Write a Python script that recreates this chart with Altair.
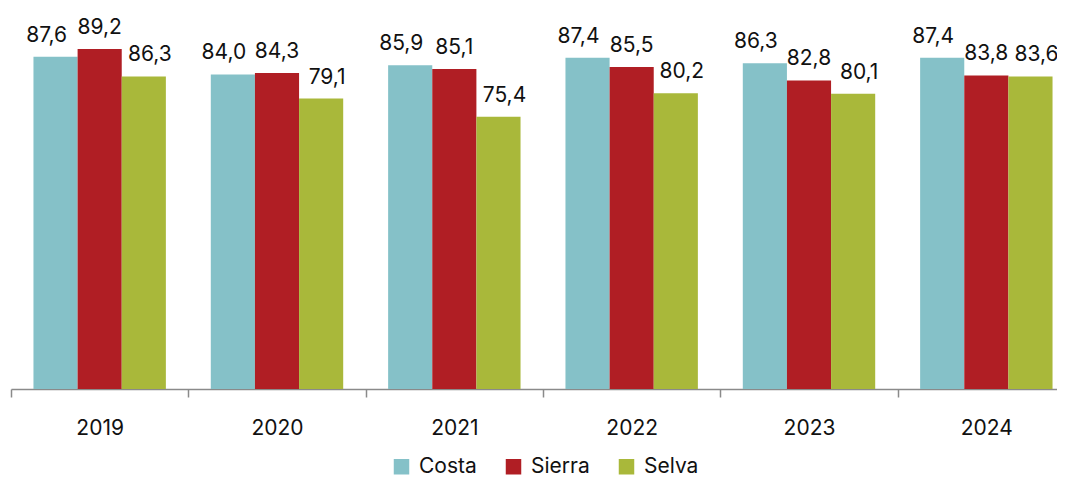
import altair as alt
import pandas as pd

years = ["2019", "2020", "2021", "2022", "2023", "2024"]
series = ["Costa", "Sierra", "Selva"]
colors = ["#85C1C8", "#B01E24", "#A9B83A"]

# values printed in the data labels
label_costa = [87.6, 84.0, 85.9, 87.4, 86.3, 87.4]
label_sierra = [89.2, 84.3, 85.1, 85.5, 82.8, 83.8]
label_selva = [86.3, 79.1, 75.4, 80.2, 80.1, 83.6]

# bar heights as drawn in the reference (2019 Selva bar is drawn lower than its label)
bar_costa = [87.6, 84.0, 85.9, 87.4, 86.3, 87.4]
bar_sierra = [89.2, 84.3, 85.1, 85.5, 82.8, 83.8]
bar_selva = [83.6, 79.1, 75.4, 80.2, 80.1, 83.6]

rows = []
for name, bars, labels in [("Costa", bar_costa, label_costa),
                           ("Sierra", bar_sierra, label_sierra),
                           ("Selva", bar_selva, label_selva)]:
    for y, b, l in zip(years, bars, labels):
        rows.append({"year": y, "serie": name, "valor": b,
                     "etiqueta": f"{l:.1f}".replace(".", ",")})
df = pd.DataFrame(rows)

FONT = "Inter"
FS = 21

x_enc = alt.X("year:N", sort=years, title=None,
              scale=alt.Scale(paddingInner=0, paddingOuter=0),
              axis=alt.Axis(labelAngle=0, tickBand="extent", domainColor="#8a8a8a",
                            tickColor="#8a8a8a", domainWidth=1.5, tickWidth=1.5,
                            tickSize=8, labelPadding=37, labelBaseline="alphabetic",
                            labelFont=FONT, labelFontSize=FS, labelColor="#111111",
                            grid=False))
xoff = alt.XOffset("serie:N", sort=series,
                   scale=alt.Scale(domain=series, paddingOuter=0.509, paddingInner=0))
y_scale = alt.Scale(domain=[20, 90], zero=False, nice=False)

bars = alt.Chart(df).mark_bar().encode(
    x=x_enc,
    xOffset=xoff,
    y=alt.Y("valor:Q", scale=y_scale, axis=None),
    y2=alt.datum(20),
    color=alt.Color("serie:N", sort=series,
                    scale=alt.Scale(domain=series, range=colors),
                    legend=alt.Legend(title=None, orient="none", direction="horizontal",
                                      legendX=380, legendY=411, symbolType="square",
                                      symbolSize=240, symbolStrokeWidth=0,
                                      labelFont=FONT, labelFontSize=FS, labelColor="#111111",
                                      labelOffset=7, columnPadding=26, padding=0)),
)

def label_layer(serie, dx):
    return alt.Chart(df).transform_filter(alt.datum.serie == serie).mark_text(
        baseline="alphabetic", dy=-15, dx=dx, font=FONT, fontSize=FS, color="#111111"
    ).encode(
        x=alt.X("year:N", sort=years),
        xOffset=alt.XOffset("serie:N", sort=series),
        y=alt.Y("valor:Q", scale=y_scale),
        text="etiqueta:N",
    )

chart = alt.layer(bars, label_layer("Costa", -9), label_layer("Sierra", 0),
                  label_layer("Selva", 6)).properties(
    width=1064, height=344,
    autosize=alt.AutoSizeParams(type="none"),
    padding={"left": 3, "top": 37, "right": -18, "bottom": 89},
    background="white",
).configure_view(stroke=None)

chart.save("out.html", embed_options={"renderer": "svg", "actions": False})
